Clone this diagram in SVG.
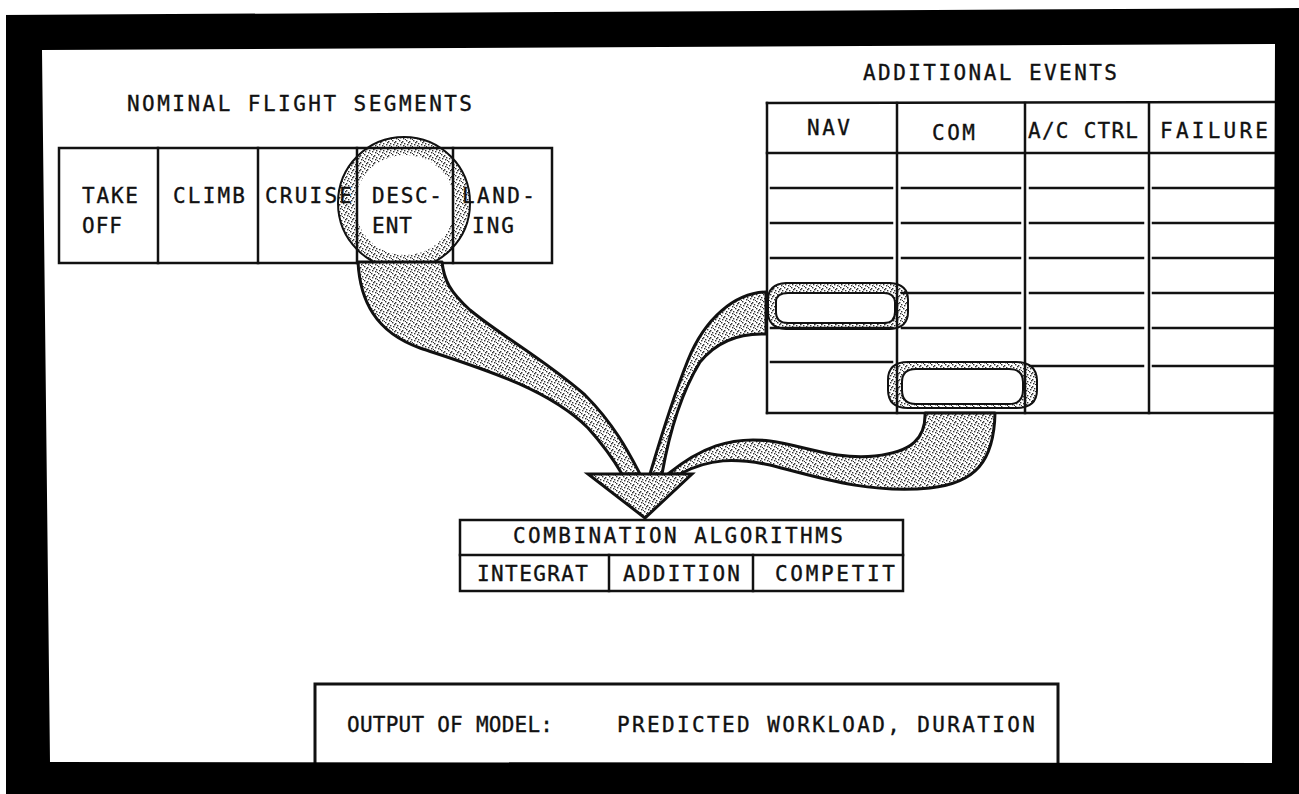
<svg xmlns="http://www.w3.org/2000/svg" width="1299" height="794" viewBox="0 0 1299 794">
<style>
.t{font-family:"DejaVu Sans Mono","Liberation Mono",monospace;font-size:21px;fill:#111;stroke:#111;stroke-width:0.35;}
.ln{stroke:#111;stroke-width:2.5;fill:none;stroke-linecap:square;}
.bx{stroke:#111;stroke-width:2.5;fill:#fff;}
.band{fill:url(#stip);stroke:#111;stroke-width:3;stroke-linejoin:round;}
</style>
<defs>
<pattern id="stip" width="7" height="7" patternUnits="userSpaceOnUse">
<rect width="7" height="7" fill="#fff"/>
<rect x="0" y="0" width="1.4" height="1.4" fill="#333"/>
<rect x="3" y="1" width="1.4" height="1.4" fill="#333"/>
<rect x="5" y="3" width="1.4" height="1.4" fill="#333"/>
<rect x="1" y="4" width="1.4" height="1.4" fill="#333"/>
<rect x="4" y="5" width="1.4" height="1.4" fill="#333"/>
<rect x="6" y="6" width="1.4" height="1.4" fill="#333"/>
<rect x="2" y="2" width="1.4" height="1.4" fill="#333"/>
</pattern>
</defs>
<rect width="1299" height="794" fill="#fff"/>

<g id="nominal-title">
<text class="t" x="127" y="111" textLength="345" lengthAdjust="spacing">NOMINAL FLIGHT SEGMENTS</text>
</g>

<g id="descent-highlight">
<path d="M338 203a66 66 0 1 0 132 0a66 66 0 1 0 -132 0ZM355 205a50 50 0 1 1 100 0a50 50 0 1 1 -100 0Z" fill="url(#stip)" fill-rule="evenodd"/>
<circle cx="404" cy="203" r="66" fill="none" stroke="#111" stroke-width="2"/>
</g>

<g id="flight-segments">
<rect x="59" y="148" width="493" height="115" fill="none" class="ln"/>
<line class="ln" x1="158" y1="148" x2="158" y2="263"/>
<line class="ln" x1="258" y1="148" x2="258" y2="263"/>
<line class="ln" x1="357" y1="148" x2="357" y2="263"/>
<line class="ln" x1="453" y1="148" x2="453" y2="263"/>
<text class="t" x="82" y="203" textLength="56" lengthAdjust="spacing">TAKE</text>
<text class="t" x="82" y="233" textLength="40" lengthAdjust="spacing">OFF</text>
<text class="t" x="173" y="203" textLength="72" lengthAdjust="spacing">CLIMB</text>
<text class="t" x="265" y="203" textLength="87" lengthAdjust="spacing">CRUISE</text>
<text class="t" x="372" y="203" textLength="70" lengthAdjust="spacing">DESC-</text>
<text class="t" x="372" y="233" textLength="40" lengthAdjust="spacing">ENT</text>
<text class="t" x="462" y="203" textLength="73" lengthAdjust="spacing">LAND-</text>
<text class="t" x="472" y="233" textLength="42" lengthAdjust="spacing">ING</text>
</g>

<g id="events-title">
<text class="t" x="863" y="80" textLength="254" lengthAdjust="spacing">ADDITIONAL EVENTS</text>
</g>

<g id="event-highlights">
<path d="M768 300q0-16 18-17h104q18 1 18 17v12q0 16-18 17h-104q-18-1-18-17Z M776 302q0-9 12-9h96q10 0 11 9v10q0 11-11 11h-96q-12 0-12-11Z" fill="url(#stip)" fill-rule="evenodd" stroke="#111" stroke-width="2"/>
<path d="M888 380q0-18 20-18h108q20 0 21 18v10q0 18-21 18h-108q-20 0-20-18Z M902 382q0-13 14-13h93q14 0 14 13v8q0 14-14 14h-93q-14 0-14-14Z" fill="url(#stip)" fill-rule="evenodd" stroke="#111" stroke-width="2"/>
</g>

<g id="events-table">
<line class="ln" x1="767" y1="103" x2="1290" y2="102"/>
<line class="ln" x1="767" y1="153" x2="1290" y2="153"/>
<line class="ln" x1="767" y1="103" x2="767" y2="413"/>
<line class="ln" x1="767" y1="413" x2="1290" y2="413"/>
<line class="ln" x1="897" y1="103" x2="897" y2="413"/>
<line class="ln" x1="1025" y1="103" x2="1025" y2="413"/>
<line class="ln" x1="1149" y1="103" x2="1149" y2="413"/>
<g class="ln">
<path d="M771 188H892M902 188H1020M1030 188H1143M1153 188H1290"/>
<path d="M771 223H892M902 223H1020M1030 223H1143M1153 223H1290"/>
<path d="M771 258H892M902 258H1020M1030 258H1143M1153 258H1290"/>
<path d="M902 293H1020M1030 293H1143M1153 293H1290"/>
<path d="M771 328H892M902 328H1020M1030 328H1143M1153 328H1290"/>
<path d="M771 362H892M1030 366H1143M1153 366H1290"/>
</g>
<text class="t" x="807" y="135" textLength="43" lengthAdjust="spacing">NAV</text>
<text class="t" x="932" y="140" textLength="43" lengthAdjust="spacing">COM</text>
<text class="t" x="1028" y="138" textLength="110" lengthAdjust="spacing">A/C CTRL</text>
<text class="t" x="1160" y="138" textLength="108" lengthAdjust="spacing">FAILURE</text>
</g>

<g id="connectors">
<path class="band" d="M358 262C360 300 375 332 420 348C480 368 548 388 588 428C606 448 615 462 622 474L640 474C630 455 615 425 585 395C545 360 500 335 470 310C450 292 444 280 442 262Z"/>
<path class="band" d="M766 292C735 293 705 318 688 360C672 400 660 440 650 474L662 474C668 440 680 395 700 362C718 340 742 333 766 334Z"/>
<path class="band" d="M925 413C926 438 912 452 875 456C835 460 805 446 770 441C730 436 700 448 668 474L680 474C710 458 735 458 770 465C820 478 870 494 930 488C975 483 994 462 995 413Z"/>
</g>

<g id="merge-arrow">
<path d="M588 474L692 474L645 518Z" fill="url(#stip)" stroke="#111" stroke-width="3" stroke-linejoin="miter"/>
</g>

<g id="combination">
<rect class="bx" x="460" y="520" width="443" height="71"/>
<line class="ln" x1="460" y1="555" x2="903" y2="555"/>
<line class="ln" x1="609" y1="555" x2="609" y2="591"/>
<line class="ln" x1="753" y1="555" x2="753" y2="591"/>
<text class="t" x="513" y="543" textLength="330" lengthAdjust="spacing">COMBINATION ALGORITHMS</text>
<text class="t" x="477" y="581" textLength="111" lengthAdjust="spacing">INTEGRAT</text>
<text class="t" x="623" y="581" textLength="117" lengthAdjust="spacing">ADDITION</text>
<text class="t" x="775" y="581" textLength="120" lengthAdjust="spacing">COMPETIT</text>
</g>

<g id="output">
<rect x="315" y="684" width="743" height="90" fill="#fff" stroke="#111" stroke-width="3"/>
<text class="t" x="347" y="732" textLength="206" lengthAdjust="spacing">OUTPUT OF MODEL:</text>
<text class="t" x="617" y="732" textLength="418" lengthAdjust="spacing">PREDICTED WORKLOAD, DURATION</text>
</g>

<g id="frame">
<path d="M0 0H1299V794H0Z M42 50L1275 44L1272 763L50 762Z" fill="#000" fill-rule="evenodd"/>
<path d="M0 0H1299V8L0 15Z M0 0H6V794H0Z" fill="#fff"/>
</g>
</svg>
